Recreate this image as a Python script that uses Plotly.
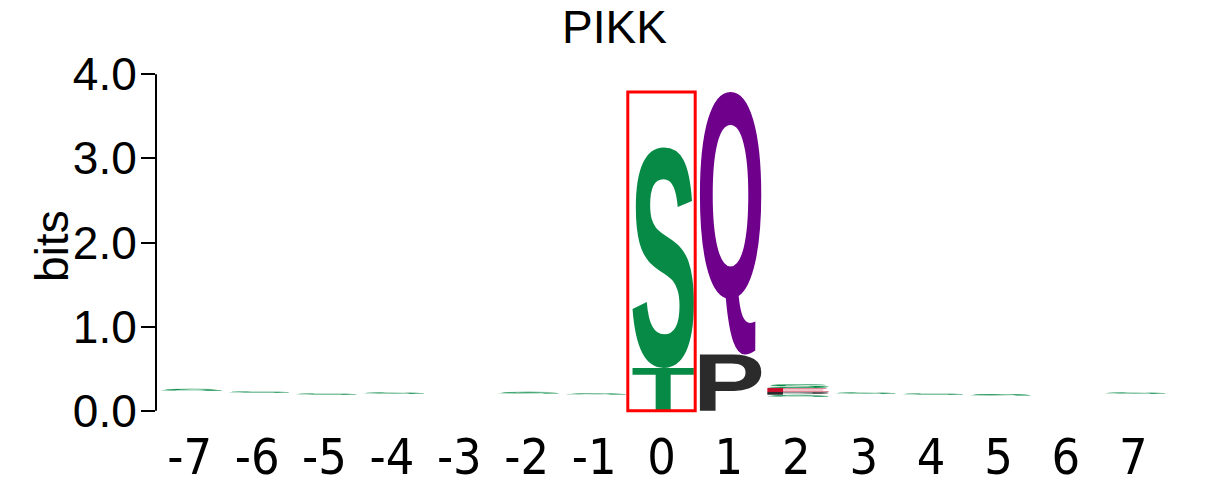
import os
import struct
import plotly.graph_objects as go

# ---------------- data ----------------
title_text = "PIKK"
y_label = "bits"
positions = [-7, -6, -5, -4, -3, -2, -1, 0, 1, 2, 3, 4, 5, 6, 7]
x_tick_labels = [str(p) for p in positions]
y_tick_values = [0, 1, 2, 3, 4]
y_tick_labels = ["0.0", "1.0", "2.0", "3.0", "4.0"]
stack_base = [0.237, 0.214, 0.19, 0.20, 0.0, 0.203, 0.192, 0.0, 0.0, 0.166, 0.20, 0.19, 0.18, 0.0, 0.20]
stack_letters = [["S"], ["S"], ["S"], ["S"], [], ["S"], ["S"], ["T", "S"], ["P", "Q"],
                 ["S", "P", "E", "S"], ["S"], ["S"], ["S"], [], ["S"]]
stack_heights = [[0.024], [0.016], [0.016], [0.02], [], [0.022], [0.016], [0.51, 2.62], [0.67, 3.12],
                 [0.024, 0.032, 0.05, 0.043], [0.02], [0.016], [0.02], [], [0.02]]
highlight_position = 0

# ---------------- style ----------------
letter_colors = {"S": "#078A46", "T": "#078A46", "Q": "#6E008C", "P": "#2B2B2B", "E": "#C8102E"}
LETTER_LEFT = -0.43
LETTER_RIGHT = 0.48
FONT = "Liberation Sans, Arial, Helvetica, sans-serif"
NARROW_FONT = "Liberation Sans Narrow, DejaVu Sans Condensed, Liberation Sans, sans-serif"


# ---------------- glyph outlines from an installed TrueType font ----------------
def find_font():
    files = []
    for root in ["/usr/share/fonts", "/usr/local/share/fonts", os.path.expanduser("~/.fonts")]:
        for dp, dn, fn in os.walk(root):
            for f in fn:
                files.append(os.path.join(dp, f))
    for pref in ["LiberationSans-Bold.ttf", "Arimo-Bold.ttf", "DejaVuSans-Bold.ttf", "Roboto-Bold.ttf"]:
        for c in files:
            if os.path.basename(c) == pref:
                return c
    for c in files:
        if c.lower().endswith(".ttf") and "bold" in c.lower():
            return c
    return None


class TTF:
    def __init__(self, path):
        d = open(path, "rb").read()
        self.d = d
        num = struct.unpack(">H", d[4:6])[0]
        self.tables = {}
        for i in range(num):
            tag, cs, off, ln = struct.unpack(">4sIII", d[12 + 16 * i:28 + 16 * i])
            self.tables[tag.decode("latin1")] = (off, ln)
        ho = self.tables["head"][0]
        self.locfmt = struct.unpack(">h", d[ho + 50:ho + 52])[0]
        mo = self.tables["maxp"][0]
        self.ng = struct.unpack(">H", d[mo + 4:mo + 6])[0]
        lo = self.tables["loca"][0]
        if self.locfmt == 0:
            self.loca = [2 * x for x in struct.unpack(">%dH" % (self.ng + 1), d[lo:lo + 2 * (self.ng + 1)])]
        else:
            self.loca = list(struct.unpack(">%dI" % (self.ng + 1), d[lo:lo + 4 * (self.ng + 1)]))
        co = self.tables["cmap"][0]
        n = struct.unpack(">H", d[co + 2:co + 4])[0]
        self.cm = None
        for i in range(n):
            pid, eid, off = struct.unpack(">HHI", d[co + 4 + 8 * i:co + 12 + 8 * i])
            fmt = struct.unpack(">H", d[co + off:co + off + 2])[0]
            if fmt == 4:
                self.cm = co + off
                if (pid, eid) == (3, 1):
                    break

    def gid(self, ch):
        d, o, c = self.d, self.cm, ord(ch)
        segx2 = struct.unpack(">H", d[o + 6:o + 8])[0]
        seg = segx2 // 2
        ends = struct.unpack(">%dH" % seg, d[o + 14:o + 14 + segx2])
        starts = struct.unpack(">%dH" % seg, d[o + 16 + segx2:o + 16 + 2 * segx2])
        deltas = struct.unpack(">%dh" % seg, d[o + 16 + 2 * segx2:o + 16 + 3 * segx2])
        rp = o + 16 + 3 * segx2
        rofs = struct.unpack(">%dH" % seg, d[rp:rp + segx2])
        for s in range(seg):
            if starts[s] <= c <= ends[s]:
                if rofs[s] == 0:
                    return (c + deltas[s]) & 0xFFFF
                addr = rp + 2 * s + rofs[s] + 2 * (c - starts[s])
                g = struct.unpack(">H", d[addr:addr + 2])[0]
                return (g + deltas[s]) & 0xFFFF if g else 0
        return 0

    def glyph(self, ch):
        d = self.d
        g = self.gid(ch)
        go_ = self.tables["glyf"][0]
        s, e = self.loca[g], self.loca[g + 1]
        if e <= s:
            return None
        o = go_ + s
        nc, xmin, ymin, xmax, ymax = struct.unpack(">hhhhh", d[o:o + 10])
        if nc <= 0:
            return None
        p = o + 10
        endpts = struct.unpack(">%dH" % nc, d[p:p + 2 * nc])
        p += 2 * nc
        il = struct.unpack(">H", d[p:p + 2])[0]
        p += 2 + il
        npts = endpts[-1] + 1
        flags = []
        while len(flags) < npts:
            f = d[p]
            p += 1
            flags.append(f)
            if f & 8:
                r = d[p]
                p += 1
                flags.extend([f] * r)
        flags = flags[:npts]
        xs, v = [], 0
        for f in flags:
            if f & 2:
                dv = d[p]
                p += 1
                v += dv if f & 16 else -dv
            elif not (f & 16):
                v += struct.unpack(">h", d[p:p + 2])[0]
                p += 2
            xs.append(v)
        ys, v = [], 0
        for f in flags:
            if f & 4:
                dv = d[p]
                p += 1
                v += dv if f & 32 else -dv
            elif not (f & 32):
                v += struct.unpack(">h", d[p:p + 2])[0]
                p += 2
            ys.append(v)
        contours, st = [], 0
        for ep in endpts:
            contours.append([(xs[i], ys[i], bool(flags[i] & 1)) for i in range(st, ep + 1)])
            st = ep + 1
        return contours, (xmin, ymin, xmax, ymax)


def contour_cmds(pts):
    n = len(pts)
    exp = []
    for i in range(n):
        x, y, on = pts[i]
        exp.append((x, y, on))
        nx, ny, non = pts[(i + 1) % n]
        if not on and not non:
            exp.append(((x + nx) / 2.0, (y + ny) / 2.0, True))
    k = next(i for i, q in enumerate(exp) if q[2])
    exp = exp[k:] + exp[:k]
    seq = exp + [exp[0]]
    cmds = [("M", seq[0][:2])]
    i = 1
    while i < len(seq):
        if seq[i][2]:
            cmds.append(("L", seq[i][:2]))
            i += 1
        else:
            cmds.append(("Q", seq[i][:2], seq[i + 1][:2]))
            i += 2
    return cmds


font_path = find_font()
ttf = None
if font_path:
    try:
        ttf = TTF(font_path)
    except Exception:
        ttf = None

glyph_cache = {}


def letter_path(ch, x0, x1, y0, y1):
    if ch not in glyph_cache:
        res = None
        if ttf is not None:
            try:
                res = ttf.glyph(ch)
                if res is not None:
                    res = ([contour_cmds(c) for c in res[0]], res[1])
            except Exception:
                res = None
        glyph_cache[ch] = res
    res = glyph_cache[ch]
    if res is None:
        return "M%f,%f L%f,%f L%f,%f L%f,%f Z" % (x0, y0, x1, y0, x1, y1, x0, y1)
    contours, (gx0, gy0, gx1, gy1) = res
    sx = (x1 - x0) / float(gx1 - gx0)
    sy = (y1 - y0) / float(gy1 - gy0)

    def tr(pt):
        return "%.5f,%.5f" % (x0 + (pt[0] - gx0) * sx, y0 + (pt[1] - gy0) * sy)

    parts = []
    for cmds in contours:
        for c in cmds:
            if c[0] == "M":
                parts.append("M" + tr(c[1]))
            elif c[0] == "L":
                parts.append("L" + tr(c[1]))
            else:
                parts.append("Q" + tr(c[1]) + " " + tr(c[2]))
        parts.append("Z")
    return " ".join(parts)


# ---------------- figure ----------------
fig = go.Figure()
# invisible trace so the axes exist
fig.add_trace(go.Scatter(x=positions, y=[0] * len(positions), mode="markers",
                         marker=dict(opacity=0), hoverinfo="skip", showlegend=False))

shapes = []
column_totals = []
for pos, base, lets, hts in zip(positions, stack_base, stack_letters, stack_heights):
    y = base
    for ch, h in zip(lets, hts):
        shapes.append(dict(type="path", xref="x", yref="y",
                           path=letter_path(ch, pos + LETTER_LEFT, pos + LETTER_RIGHT, y, y + h),
                           fillcolor=letter_colors[ch], line=dict(width=0), layer="above",
                           fillrule="nonzero"))
        y += h
    column_totals.append(y)

# highlight box around the phospho-site column
shapes.append(dict(type="rect", xref="x", yref="y",
                   x0=highlight_position - 0.5, x1=highlight_position + 0.5,
                   y0=0, y1=max(column_totals),
                   line=dict(color="#FF0000", width=3), fillcolor="rgba(0,0,0,0)", layer="above"))
# y-axis spine spanning the tick range
shapes.append(dict(type="line", xref="paper", yref="y", x0=0, x1=0,
                   y0=y_tick_values[0], y1=y_tick_values[-1],
                   line=dict(color="black", width=2)))

fig.update_layout(
    width=1229, height=496,
    margin=dict(l=156, r=62, t=70, b=81, autoexpand=False),
    paper_bgcolor="white", plot_bgcolor="white",
    shapes=shapes,
    showlegend=False,
    title=dict(text=title_text, x=0.5, xref="container", xanchor="center",
               y=1 - 27.0 / 496, yref="container", yanchor="middle",
               font=dict(family=FONT, size=46, color="black")),
    annotations=[dict(text=y_label, xref="paper", yref="paper",
                      x=(52 - 156) / 1011.0, y=0.49, textangle=-90,
                      showarrow=False, xanchor="center", yanchor="middle",
                      font=dict(family=FONT, size=46, color="black"))],
)
fig.update_xaxes(range=[positions[0] - 0.5, positions[-1] + 0.5],
                 tickvals=positions, ticktext=x_tick_labels, automargin=False,
                 showgrid=False, zeroline=False, showline=False, ticks="",
                 ticklabelstandoff=8,
                 tickfont=dict(family=NARROW_FONT, size=50, color="black"))
fig.update_yaxes(range=[-0.05, 4.05], tickvals=y_tick_values, ticktext=y_tick_labels,
                 automargin=False,
                 showgrid=False, zeroline=False, showline=False,
                 ticks="outside", ticklen=14, tickwidth=2, tickcolor="black",
                 ticklabelstandoff=-5,
                 tickfont=dict(family=FONT, size=46, color="black"))

fig.write_html("out.html")
